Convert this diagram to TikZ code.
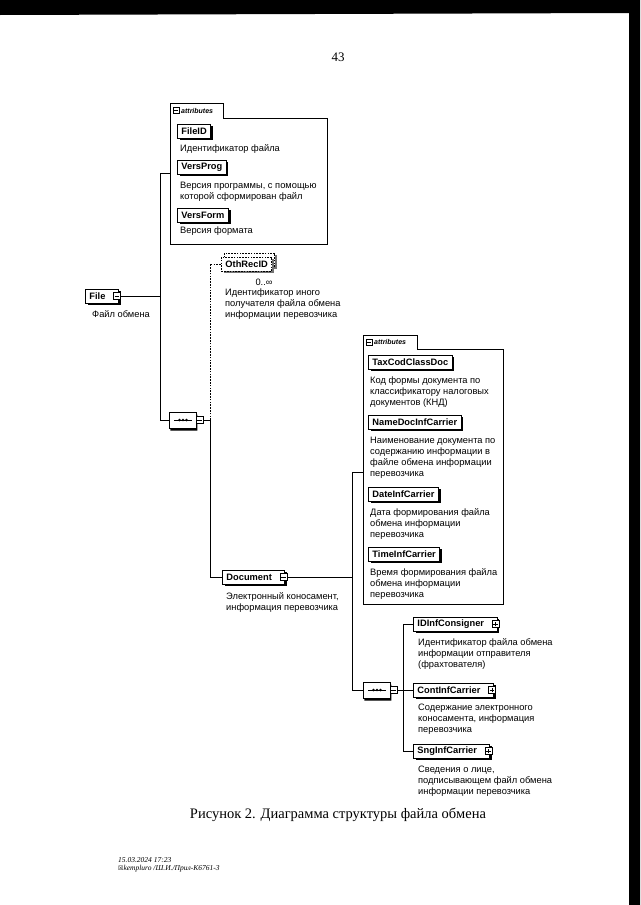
\documentclass[tikz,border=0pt]{standalone}
\usepackage{fontspec}
\setmainfont{Liberation Serif}
\newfontfamily\arialf{Liberation Sans}
\newfontfamily\djvf{DejaVu Sans}
\usetikzlibrary{shapes.misc,shadows}
\tikzset{
  conn/.style={line width=0.8pt},
  optconn/.style={line width=0.8pt, dash pattern=on 1.6pt off 1.2pt},
  elembase/.style={draw, line width=0.9pt, fill=white, anchor=west,
    font=\arialf\bfseries\fontsize{9.3}{11}\selectfont,
    inner xsep=4pt, inner ysep=0pt, minimum height=14pt},
  elem/.style={elembase,
    drop shadow={shadow xshift=2.2pt, shadow yshift=-2.2pt, fill=black, opacity=1}},
  optelem/.style={elembase, dash pattern=on 1.6pt off 1.2pt,
    drop shadow={shadow xshift=2.2pt, shadow yshift=-2.2pt, fill=black!55, opacity=1}},
  desc/.style={font=\arialf\fontsize{9.3}{11}\selectfont, align=left, anchor=north west, inner sep=0pt},
  attrline/.style={line width=0.7pt},
  tabtext/.style={font=\arialf\bfseries\itshape\fontsize{7}{8}\selectfont, anchor=west, inner sep=0pt},
  icminus/.style={draw, fill=white, line width=0.6pt, minimum size=7pt, inner sep=0pt,
    path picture={\draw[line width=0.6pt] ([xshift=1.2pt]path picture bounding box.west) -- ([xshift=-1.2pt]path picture bounding box.east);}},
  icplus/.style={draw, fill=white, line width=0.6pt, minimum size=7pt, inner sep=0pt,
    path picture={\draw[line width=0.6pt] ([xshift=1.2pt]path picture bounding box.west) -- ([xshift=-1.2pt]path picture bounding box.east) ([yshift=1.2pt]path picture bounding box.south) -- ([yshift=-1.2pt]path picture bounding box.north);}},
  seqbox/.style={chamfered rectangle, chamfered rectangle xsep=4pt, draw, line width=0.9pt, fill=white,
    minimum width=27pt, minimum height=16pt, inner sep=0pt,
    drop shadow={shadow xshift=0.8pt, shadow yshift=-2.5pt, fill=black, opacity=1}},
}
\newcommand\seqdots[1]{%
  \draw[line width=0.8pt] ([xshift=-9pt]#1.center) -- ([xshift=9pt]#1.center);
  \foreach \dx in {-3.6,0,3.6} \fill ([xshift=\dx pt]#1.center) circle (1.4pt);}
\begin{document}
\begin{tikzpicture}[x=1pt,y=-1pt]
\useasboundingbox (0,0) rectangle (640,905);
\fill[black] (0,0) -- (640,0) -- (640,905) -- (629,905) -- (629,13) -- (0,15) -- cycle;
\node[font=\fontsize{13}{15}\selectfont] (pg) at (338,57) {43};

% ---------- attributes of File
\draw[attrline] (223,118) -- (327,118) -- (327,244) -- (170,244) -- (170,103) -- (223,103) -- cycle;
\node[icminus, minimum size=6pt] (at1i) at (176,110.5) {};
\node[tabtext] (at1l) at (181,110.5) {attributes};
\node[elem] (fileid) at (177,131) {FileID};
\node[desc] (fileidd) at (180,144.7) {Идентификатор файла};
\node[elem] (versprog) at (177,167) {VersProg};
\node[desc] (versprogd) at (180,181.7) {Версия программы, с помощью\\которой сформирован файл};
\node[elem] (versform) at (177,215) {VersForm};
\node[desc] (versformd) at (180,226.7) {Версия формата};

% ---------- File
\node[elem] (file) at (85,296) {File\kern9pt};
\node[icminus] (fileic) at ([xshift=-2pt]file.east) {};
\node[desc] (filed) at (92,310.7) {Файл обмена};

% ---------- sequence 1
\node[seqbox] (seq1) at (183,420) {};
\seqdots{seq1}
\node[icminus] (seq1ic) at (199.5,420) {};

\coordinate (a1c) at (170,173);
\coordinate (bus1) at (160,0);
\draw[conn] (fileic.east) -- (fileic.east -| bus1);
\draw[conn] (a1c) -- (a1c -| bus1) |- (seq1.west);

% ---------- OthRecID
\node[optelem] (othb) at (224,260) {\phantom{OthRecID}};
\node[optelem] (oth) at (221,264) {OthRecID};
\node[font=\arialf\fontsize{9.3}{11}\selectfont, inner sep=0pt] (othm) at (264,282) {0..∞};
\node[desc] (othd) at (225,288.7) {Идентификатор иного\\получателя файла обмена\\информации перевозчика};

% ---------- Document
\node[elem] (doc) at (222,577) {Document\kern9pt};
\node[icminus] (docic) at ([xshift=-2pt]doc.east) {};
\node[desc] (docd) at (226,592.7) {Электронный коносамент,\\информация перевозчика};

\draw[conn] (seq1ic.east) -- (210,420) coordinate (s1j);
\draw[optconn] (s1j) |- (oth.west);
\draw[conn] (s1j) |- (doc.west);

% ---------- attributes of Document
\draw[attrline] (417,349) -- (503,349) -- (503,604) -- (363,604) -- (363,335) -- (417,335) -- cycle;
\node[icminus, minimum size=6pt] (at2i) at (369,342) {};
\node[tabtext] (at2l) at (374,342) {attributes};
\node[elem] (tax) at (368,362) {TaxCodClassDoc};
\node[desc] (taxd) at (370,376.7) {Код формы документа по\\классификатору налоговых\\документов (КНД)};
\node[elem] (namedoc) at (368,422) {NameDocInfCarrier};
\node[desc] (namedocd) at (370,436.7) {Наименование документа по\\содержанию информации в\\файле обмена информации\\перевозчика};
\node[elem] (dateinf) at (368,494) {DateInfCarrier};
\node[desc] (dateinfd) at (370,508.7) {Дата формирования файла\\обмена информации\\перевозчика};
\node[elem] (timeinf) at (368,554) {TimeInfCarrier};
\node[desc] (timeinfd) at (370,568.7) {Время формирования файла\\обмена информации\\перевозчика};

% ---------- sequence 2
\node[seqbox] (seq2) at (377,690) {};
\seqdots{seq2}
\node[icminus] (seq2ic) at (393.5,690) {};

\coordinate (bus3) at (352,0);
\coordinate (a2c) at (363,472);
\draw[conn] (docic.east) -- (docic.east -| bus3);
\draw[conn] (a2c) -- (a2c -| bus3) |- (seq2.west);

% ---------- children of sequence 2
\node[elem] (idinf) at (413,624) {IDInfConsigner\kern9pt};
\node[icplus] (idinfic) at ([xshift=-2pt]idinf.east) {};
\node[desc] (idinfd) at (418,638.7) {Идентификатор файла обмена\\информации отправителя\\(фрахтователя)};
\node[elem] (cont) at (413,690) {ContInfCarrier\kern9pt};
\node[icplus] (contic) at ([xshift=-2pt]cont.east) {};
\node[desc] (contd) at (418,703.7) {Содержание электронного\\коносамента, информация\\перевозчика};
\node[elem] (sng) at (413,751) {SngInfCarrier\kern9pt};
\node[icplus] (sngic) at ([xshift=-2pt]sng.east) {};
\node[desc] (sngd) at (418,765.7) {Сведения о лице,\\подписывающем файл обмена\\информации перевозчика};

\coordinate (bus4) at (403,0);
\draw[conn] (seq2ic.east) -- (cont.west);
\draw[conn] (idinf.west) -- (idinf.west -| bus4) -- (bus4 |- sng.west) -- (sng.west);

% ---------- caption and footer
\node[font=\fontsize{14.5}{17}\selectfont] (cap) at (338,815) {Рисунок 2. Диаграмма структуры файла обмена};
\node[font=\itshape\fontsize{7.5}{9}\selectfont, anchor=west, inner sep=0pt] (f1) at (118,860) {15.03.2024 17:23};
\node[font=\itshape\fontsize{7.5}{9}\selectfont, anchor=west, inner sep=0pt] (f2) at (118,869) {{\djvf\upshape\fontsize{6}{7}\selectfont ☒}kempluro /Ш.И./Прил-К6761-3};
\end{tikzpicture}
\end{document}
